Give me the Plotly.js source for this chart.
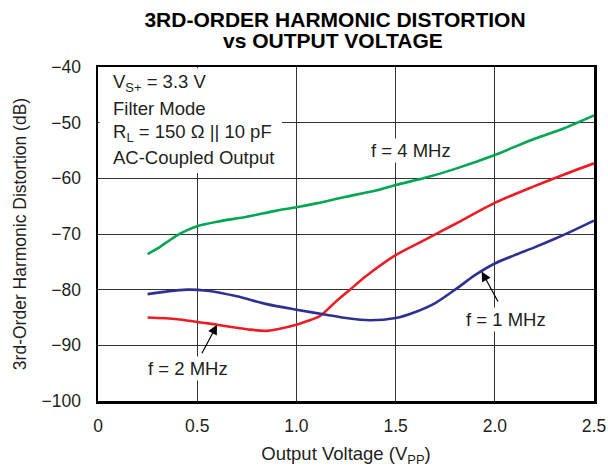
<!DOCTYPE html>
<html>
<head>
<meta charset="utf-8">
<script src="https://cdn.plot.ly/plotly-3.0.1.min.js"></script>
<style>html,body{margin:0;padding:0;background:#fff;}#chart{width:608px;height:468px;}</style>
</head>
<body>
<div id="chart"></div>
<script>
// Data
var x1MHz = [0.25, 0.35, 0.45, 0.55, 0.7, 0.85, 1.0, 1.15, 1.25, 1.37, 1.5, 1.6, 1.7, 1.8, 1.9, 2.0, 2.1, 2.2, 2.3, 2.4, 2.5];
var y1MHz = [-80.8, -80.3, -80.0, -80.2, -81.2, -82.6, -83.6, -84.5, -85.1, -85.5, -85.1, -84.0, -82.4, -80.0, -77.4, -75.3, -73.8, -72.4, -70.9, -69.3, -67.6];

var x2MHz = [0.25, 0.4, 0.6, 0.75, 0.85, 1.0, 1.05, 1.12, 1.2, 1.27, 1.35, 1.5, 1.65, 1.8, 2.0, 2.2, 2.35, 2.5];
var y2MHz = [-85.0, -85.3, -86.3, -87.1, -87.4, -86.3, -85.7, -84.7, -82.1, -80.0, -77.6, -73.8, -71.0, -68.2, -64.4, -61.4, -59.3, -57.3];

var x4MHz = [0.25, 0.3, 0.35, 0.4, 0.45, 0.5, 0.6, 0.75, 0.9, 1.0, 1.1, 1.25, 1.4, 1.5, 1.64, 1.8, 2.0, 2.2, 2.35, 2.5];
var y4MHz = [-73.6, -72.6, -71.4, -70.2, -69.3, -68.6, -67.8, -66.9, -65.8, -65.2, -64.5, -63.3, -62.2, -61.2, -60.0, -58.3, -55.8, -52.9, -51.0, -48.7];

var xTickVals = [0, 0.5, 1.0, 1.5, 2.0, 2.5];
var xTickText = ["0", "0.5", "1.0", "1.5", "2.0", "2.5"];
var yTickVals = [-100, -90, -80, -70, -60, -50, -40];
var yTickText = ["\u2212100", "\u221290", "\u221280", "\u221270", "\u221260", "\u221250", "\u221240"];

var FONT = "Liberation Sans, Arial, Helvetica, sans-serif";
var TXT = "#231f20";

var traces = [
  {x: x4MHz, y: y4MHz, mode: "lines", line: {color: "#00a651", width: 2.6, shape: "spline", smoothing: 0.8}, hoverinfo: "skip"},
  {x: x2MHz, y: y2MHz, mode: "lines", line: {color: "#ed1c24", width: 2.6, shape: "spline", smoothing: 0.8}, hoverinfo: "skip"},
  {x: x1MHz, y: y1MHz, mode: "lines", line: {color: "#2e3192", width: 2.6, shape: "spline", smoothing: 0.8}, hoverinfo: "skip"}
];

var infoLines = ["V<sub>S+</sub> = 3.3 V", "Filter Mode", "R<sub>L</sub> = 150 \u03A9 || 10 pF", "AC-Coupled Output"];
var infoY = [0.952, 0.876, 0.802, 0.730];

var annotations = [];
infoLines.forEach(function(t, i){
  annotations.push({xref: "paper", yref: "paper", x: 0.026, y: infoY[i], xanchor: "left", yanchor: "middle",
    text: t, showarrow: false, font: {family: FONT, size: 18.5, color: TXT}});
});
annotations.push({xref: "paper", yref: "paper", x: 0.473, y: 1.078, xanchor: "center", yanchor: "middle",
  text: "<b>vs OUTPUT VOLTAGE</b>", showarrow: false, font: {family: FONT, size: 21, color: "#000"}});
annotations.push({xref: "x", yref: "y", x: 1.58, y: -55.0, text: "f = 4 MHz", showarrow: false,
  bgcolor: "#ffffff", borderpad: 1, font: {family: FONT, size: 18.5, color: TXT}});
annotations.push({xref: "x", yref: "y", x: 0.454, y: -94.2, text: "f = 2 MHz", showarrow: false,
  bgcolor: "#ffffff", borderpad: 1, font: {family: FONT, size: 18.5, color: TXT}});
annotations.push({xref: "x", yref: "y", x: 2.055, y: -85.3, text: "f = 1 MHz", showarrow: false,
  bgcolor: "#ffffff", borderpad: 1, font: {family: FONT, size: 18.5, color: TXT}});
annotations.push({xref: "x", yref: "y", x: 0.60, y: -86.3, axref: "x", ayref: "y", ax: 0.52, ay: -91.7,
  text: "", showarrow: true, arrowhead: 2, arrowsize: 1.6, arrowwidth: 1.2, arrowcolor: "#000"});
annotations.push({xref: "x", yref: "y", x: 1.934, y: -76.75, axref: "x", ayref: "y", ax: 2.02, ay: -82.4,
  text: "", showarrow: true, arrowhead: 2, arrowsize: 1.6, arrowwidth: 1.2, arrowcolor: "#000"});

var layout = {
  width: 608, height: 468,
  margin: {l: 98, r: 14, t: 67, b: 67, pad: 0},
  paper_bgcolor: "#ffffff", plot_bgcolor: "#ffffff",
  showlegend: false,
  font: {family: FONT, size: 17, color: TXT},
  title: {text: "<b>3RD-ORDER HARMONIC DISTORTION</b>",
    font: {family: FONT, size: 21, color: "#000"},
    xref: "container", x: 0.551, xanchor: "center",
    yref: "container", y: 0.959, yanchor: "middle"},
  xaxis: {
    range: [0, 2.5], tickvals: xTickVals, ticktext: xTickText, ticks: "",
    showgrid: true, gridcolor: "#333", gridwidth: 1, zeroline: false,
    showline: true, linecolor: "#000", linewidth: 2.5, mirror: true,
    tickfont: {family: FONT, size: 17.5, color: TXT}, ticklabelstandoff: 7,
    title: {text: "Output Voltage (V<sub>PP</sub>)", font: {family: FONT, size: 18.5, color: TXT}, standoff: 13},
    fixedrange: true
  },
  yaxis: {
    range: [-100, -40], tickvals: yTickVals, ticktext: yTickText, ticks: "",
    showgrid: true, gridcolor: "#333", gridwidth: 1, zeroline: false,
    showline: true, linecolor: "#000", linewidth: 2.5, mirror: true,
    tickfont: {family: FONT, size: 17.5, color: TXT}, ticklabelstandoff: 11,
    title: {text: "3rd-Order Harmonic Distortion (dB)", font: {family: FONT, size: 17.5, color: TXT}, standoff: 11},
    fixedrange: true
  },
  shapes: [
    {type: "rect", xref: "paper", yref: "paper", x0: 0.003, x1: 0.371, y0: 0.683, y1: 0.996,
      fillcolor: "#ffffff", line: {width: 0}, layer: "above"}
  ],
  annotations: annotations
};

Plotly.newPlot("chart", traces, layout, {displayModeBar: false, staticPlot: true});
</script>
</body>
</html>
